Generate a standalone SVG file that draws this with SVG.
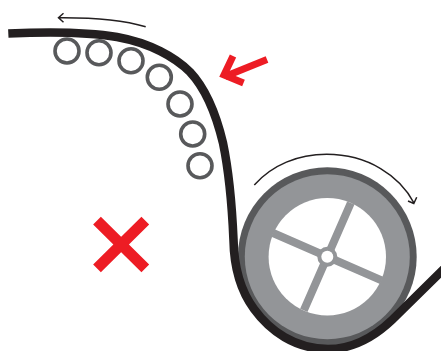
<svg xmlns="http://www.w3.org/2000/svg" width="441" height="351" viewBox="0 0 441 351">
<style>
.roller{fill:none;stroke:#58595b;stroke-width:3.6}
.thin{fill:none;stroke:#231f20;stroke-width:1.5}
.spoke{stroke:#939598;stroke-width:8;fill:none}
.red{fill:none;stroke:#ed1c24}
</style>
<rect width="441" height="351" fill="#fff"/>
<g id="wheel">
<circle cx="327.3" cy="256.7" r="89.4" fill="#58595b"/>
<circle cx="327.3" cy="256.7" r="82.5" fill="#939598"/>
<circle cx="327.3" cy="256.7" r="58.7" fill="#fff"/>
<path class="spoke" d="M273 233L381.600 280.400M350.800 203L303.800 310.400"/>
<circle cx="327.300" cy="256.700" r="10" fill="#939598"/>
<circle cx="327.300" cy="256.700" r="6" fill="#fff"/>
</g>
<g id="rollers">
<circle class="roller" cx="67" cy="51" r="12"/>
<circle class="roller" cx="99" cy="52.700" r="12"/>
<circle class="roller" cx="131" cy="60.700" r="12"/>
<circle class="roller" cx="159.300" cy="77.300" r="12"/>
<circle class="roller" cx="180" cy="104" r="12"/>
<circle class="roller" cx="192.700" cy="134" r="12"/>
<circle class="roller" cx="200" cy="165.700" r="12"/>
</g>
<g id="connectors">
<path id="belt" fill="none" stroke="#231f20" stroke-width="8.600" d="M8.300 33.500C40 32 85 31.500 117 37C150 43 175 57 190 72C207 90 217 118 223 143C229 172 232 205 233.500 240C234 268 240 290 254 309C270 331 295 349 328 349C350 349 372 339 392 320L451 262"/>
<path class="thin" d="M145.700 26.700C120 19 90 17.500 59.500 17.700M63.500 13.300L58.500 17.700L63.500 22.300"/>
<path class="thin" d="M254.300 185C272 165 298 154.300 326.700 154.300C368 154.300 400 176 414 203M408 201L413.800 203.500L416.700 197.300"/>
</g>
<g id="red-arrow">
<path class="red" stroke-width="7" d="M267 59.500L225 76.500"/>
<path class="red" stroke-width="7" stroke-linejoin="miter" d="M233 56L224 75L243.500 83"/>
</g>
<g id="red-x">
<path class="red" stroke-width="11" d="M97 220.700L145.300 268.300M145.300 220.700L97 268.300"/>
</g>
</svg>
